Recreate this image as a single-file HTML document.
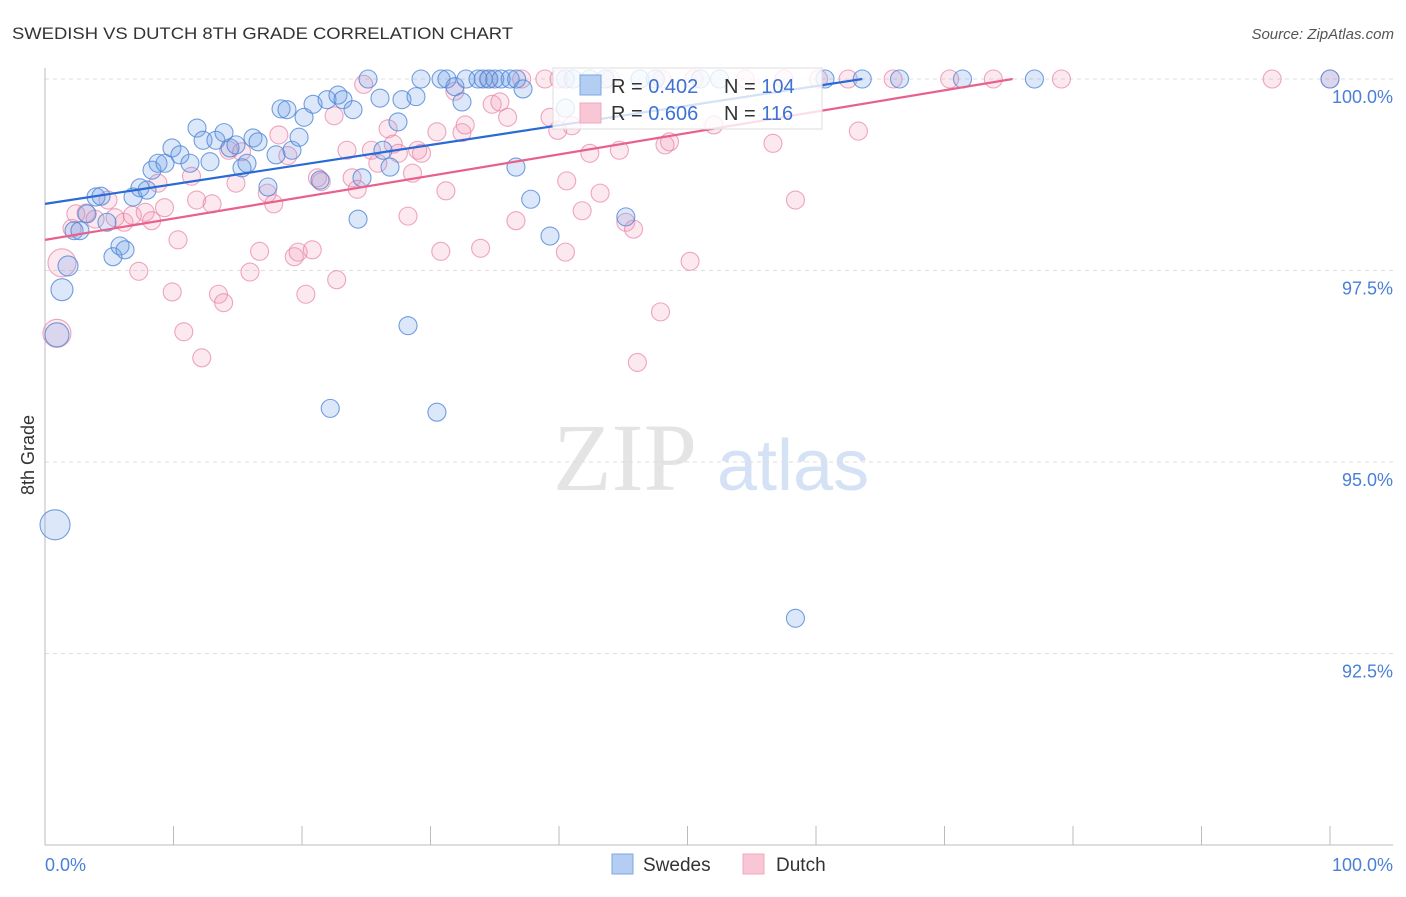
<!DOCTYPE html>
<html><head><meta charset="utf-8"><style>
body{margin:0;background:#fff;font-family:"Liberation Sans",sans-serif;}
</style></head><body>
<svg id="chart" width="1406" height="892" xmlns="http://www.w3.org/2000/svg" font-family="Liberation Sans, sans-serif">
<text x="12" y="39" font-size="17" fill="#333" textLength="501" lengthAdjust="spacingAndGlyphs">SWEDISH VS DUTCH 8TH GRADE CORRELATION CHART</text>
<text x="1394" y="39" font-size="15" fill="#555" text-anchor="end" font-style="italic">Source: ZipAtlas.com</text>
<g>
<text x="553" y="490" font-size="96" fill="#e4e4e4" font-family="Liberation Serif, serif">ZIP</text>
<text x="717" y="490" font-size="72" fill="#d5e2f5">atlas</text>
</g>
<g id="grid"></g>
<g id="axes"></g>
<g id="pinkPts"></g>
<g id="bluePts"></g>
<g id="lines"></g>
<g>
<rect x="553" y="68" width="269" height="61" fill="#fff" fill-opacity="0.8" stroke="#ddd"/>
<rect x="580" y="75" width="21" height="20" fill="#b4cdf2" stroke="#7da6e3"/>
<rect x="580" y="103" width="21" height="20" fill="#f8c6d5" stroke="#efa8bd"/>
<text x="611" y="93" font-size="20" fill="#333">R = <tspan fill="#3d72d4">0.402</tspan></text>
<text x="724" y="93" font-size="20" fill="#333">N = <tspan fill="#3d72d4">104</tspan></text>
<text x="611" y="120" font-size="20" fill="#333">R = <tspan fill="#3d72d4">0.606</tspan></text>
<text x="724" y="120" font-size="20" fill="#333">N = <tspan fill="#3d72d4"> 116</tspan></text>
</g>
<g>
<rect x="612" y="854" width="21" height="20" fill="#b4cdf2" stroke="#7da6e3"/>
<text x="643" y="871" font-size="19" fill="#333">Swedes</text>
<rect x="743" y="854" width="21" height="20" fill="#f8c6d5" stroke="#efa8bd"/>
<text x="776" y="871" font-size="19" fill="#333">Dutch</text>
</g>
<text transform="translate(34,455) rotate(-90)" font-size="18" fill="#333" text-anchor="middle">8th Grade</text>
</svg>
<script>
const yTicks=[100,97.5,95,92.5];
const yTickLabels=["100.0%","97.5%","95.0%","92.5%"];
const xTickLabels=["0.0%","100.0%"];
const blueX=[0.78,1.32,0.93,1.79,2.26,2.72,3.27,3.97,4.36,4.82,5.29,5.84,6.23,6.85,7.39,7.94,8.33,8.79,9.34,9.88,10.5,11.28,11.83,12.3,12.84,13.3,13.93,14.4,14.86,15.33,15.72,16.19,16.58,17.35,17.98,18.37,18.83,19.22,19.77,20.16,20.86,21.4,21.95,22.8,23.19,23.97,24.36,24.67,25.14,26.07,26.3,26.85,27.47,27.78,28.25,28.87,29.26,30.5,30.82,31.28,31.9,32.45,32.76,33.7,34.1,34.55,35.0,35.5,36.2,36.7,37.2,36.65,37.8,39.3,40.5,40.5,41.1,42.4,43.6,45.2,46.3,47.5,51,52.5,22.2,58.4,60.7,63.6,66.5,71.4,77,100];
const blueY=[94.18,97.25,96.66,97.56,98.02,98.02,98.24,98.46,98.47,98.13,97.68,97.82,97.77,98.46,98.58,98.55,98.81,98.9,98.9,99.1,99.01,98.9,99.36,99.2,98.92,99.2,99.3,99.1,99.14,98.84,98.9,99.23,99.18,98.59,99.01,99.61,99.6,99.07,99.24,99.5,99.67,98.68,99.73,99.79,99.73,99.6,98.17,98.71,100,99.75,99.07,98.85,99.44,99.73,96.78,99.77,100,95.65,100,100,99.9,99.7,100,100,100,100,100,100,100,100,99.87,98.85,98.43,97.95,99.62,100,100,100,100,98.2,100,100,100,100,95.7,92.96,100,100,100,100,100,100];
const blueR=[15,11,12,10];
const pinkX=[0.93,1.32,2.1,2.4,3.2,3.9,4.9,5.45,6.15,6.8,7.3,7.8,8.3,8.79,9.3,9.9,10.35,10.8,11.4,11.8,12.2,13,13.5,13.9,14.3,14.86,15.3,15.95,16.7,17.3,17.8,18.2,18.9,19.4,19.7,20.3,20.8,21.2,21.5,22.5,22.7,23.5,23.9,24.3,24.8,25.4,25.9,26.7,27.1,27.5,28.25,28.6,29.0,29.3,30.5,30.8,31.2,31.9,32.45,32.7,33.9,34.5,34.8,35.4,36.0,36.65,37.1,38.9,39.3,39.9,40.5,40.6,41.0,41.8,42.4,43.2,44.7,45.2,45.8,46.1,47.9,48.25,48.6,50.2,52.05,56.65,58.4,60.2,62.5,63.3,66,70.4,73.8,79.1,95.5,100,40,44,48,50.5,54.5,57.5];
const pinkY=[96.68,97.6,98.05,98.24,98.25,98.17,98.42,98.19,98.13,98.22,97.49,98.26,98.15,98.64,98.32,97.22,97.9,96.7,98.73,98.42,96.36,98.37,97.19,97.08,99.07,98.64,99.05,97.48,97.75,98.51,98.37,99.27,99.0,97.68,97.74,97.19,97.77,98.71,98.66,99.52,97.38,99.07,98.71,98.56,99.93,99.07,98.9,99.35,99.15,99.03,98.21,98.77,99.07,99.03,99.31,97.75,98.54,99.84,99.3,99.4,97.79,100,99.67,99.7,99.5,98.15,100,100,99.5,99.33,97.74,98.67,99.39,98.28,99.03,98.51,99.07,98.13,98.04,96.3,96.96,99.14,99.18,97.62,99.4,99.16,98.42,100,100,99.32,100,100,100,100,100,100,100,100,100,100,100,100];
const pinkR=[14,14];
const blueLine=[0,98.37,63.6,100];
const pinkLine=[0,97.9,75.3,100];
const X=v=>45+v*12.85, Y=v=>79+(100-v)*76.6;
const NS="http://www.w3.org/2000/svg";
function mk(tag,attrs,parent){const e=document.createElementNS(NS,tag);for(const k in attrs)e.setAttribute(k,attrs[k]);parent.appendChild(e);return e;}
const grid=document.getElementById('grid'),axes=document.getElementById('axes');
yTicks.forEach((t,i)=>{
 const l=mk('line',{x1:45,x2:1393,y1:Y(t),y2:Y(t),stroke:'#ddd','stroke-dasharray':'4,4'},grid);
 
 
 const tx=mk('text',{x:1393,y:Y(t)+24,'font-size':18,fill:'#4a7fd8','text-anchor':'end'},axes);
 tx.textContent=yTickLabels[i];
 
 
});
const ya=mk('line',{x1:45,x2:45,y1:68,y2:845,stroke:'#bbb'},axes);


const xa=mk('line',{x1:45,x2:1393,y1:845,y2:845,stroke:'#bbb'},axes);


for(let i=0;i<=10;i++){
 const t=mk('line',{x1:X(i*10),x2:X(i*10),y1:826,y2:845,stroke:'#bbb'},axes);
 
 
}
[[0,'start',45],[1,'end',1393]].forEach(([i,a,x])=>{
 const t=mk('text',{x:x,y:871,'font-size':18,fill:'#4a7fd8','text-anchor':a},axes);
 t.textContent=xTickLabels[i];
 
 
});
const pg=document.getElementById('pinkPts');
pinkX.forEach((x,i)=>{
 const c=mk('circle',{cx:X(x),cy:Y(pinkY[i]),r:pinkR[i]||9,fill:'rgba(242,150,180,0.22)',stroke:'rgba(232,130,165,0.7)','stroke-width':1.1},pg);
 
 
});
const bg=document.getElementById('bluePts');
blueX.forEach((x,i)=>{
 const c=mk('circle',{cx:X(x),cy:Y(blueY[i]),r:blueR[i]||9,fill:'rgba(110,160,230,0.24)',stroke:'rgba(80,135,215,0.8)','stroke-width':1.1},bg);
 
 
});
const lg=document.getElementById('lines');
const bl=mk('line',{x1:X(blueLine[0]),y1:Y(blueLine[1]),x2:X(blueLine[2]),y2:Y(blueLine[3]),stroke:'#2a6ad6','stroke-width':2.2},lg);


const pl=mk('line',{x1:X(pinkLine[0]),y1:Y(pinkLine[1]),x2:X(pinkLine[2]),y2:Y(pinkLine[3]),stroke:'#e8618c','stroke-width':2.2},lg);


</script>
</body></html>
